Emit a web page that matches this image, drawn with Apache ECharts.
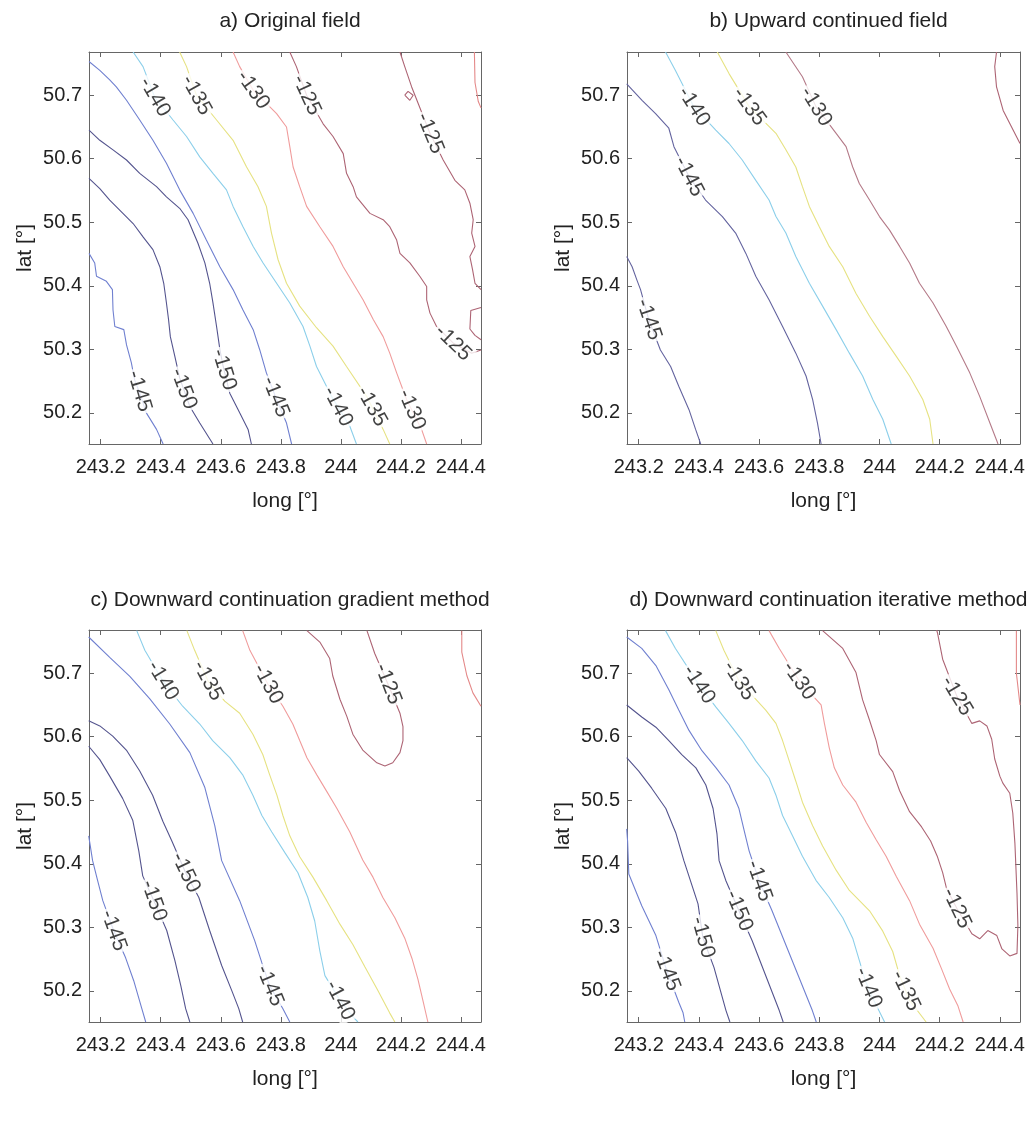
<!DOCTYPE html>
<html>
<head>
<meta charset="utf-8">
<title>Field continuation contours</title>
<script src="https://cdn.jsdelivr.net/npm/echarts@6/dist/echarts.min.js"></script>
<style>
  html, body { margin: 0; padding: 0; background: #fff; }
  #main { width: 1032px; height: 1133px; }
</style>
</head>
<body>
<div id="main"></div>
<script>
// ---- axes ----
const LON_RANGE = [243.161, 244.467];
const LAT_RANGE = [50.151, 50.768];
const LON_TICKS = [243.2, 243.4, 243.6, 243.8, 244, 244.2, 244.4];
const LAT_TICKS = [50.2, 50.3, 50.4, 50.5, 50.6, 50.7];
const X_NAME = 'long [°]';
const Y_NAME = 'lat [°]';
const TITLES = [
  'a) Original field',
  'b) Upward continued field',
  'c) Downward continuation gradient method',
  'd) Downward continuation iterative method'
];

// ---- a) original field: contour polylines [long, lat] ----
const A_M145_W = [[243.161,50.451],[243.180,50.436],[243.186,50.415],[243.219,50.407],[243.239,50.394],[243.241,50.362],[243.247,50.336],[243.277,50.331],[243.286,50.307],[243.302,50.279],[243.313,50.252],[243.330,50.231],[243.352,50.200],[243.386,50.174],[243.408,50.151]];
const A_M150_W = [[243.161,50.569],[243.197,50.553],[243.230,50.535],[243.274,50.514],[243.308,50.498],[243.341,50.477],[243.374,50.457],[243.397,50.430],[243.410,50.404],[243.419,50.373],[243.426,50.347],[243.432,50.320],[243.447,50.289],[243.463,50.255],[243.497,50.210],[243.530,50.184],[243.574,50.151]];
const A_M150_E = [[243.161,50.645],[243.197,50.629],[243.241,50.614],[243.286,50.598],[243.330,50.577],[243.386,50.556],[243.419,50.540],[243.463,50.522],[243.491,50.504],[243.524,50.467],[243.547,50.436],[243.563,50.404],[243.574,50.373],[243.586,50.336],[243.597,50.300],[243.608,50.273],[243.630,50.231],[243.663,50.200],[243.691,50.174],[243.702,50.151]];
const A_M145_E = [[243.161,50.753],[243.197,50.739],[243.230,50.724],[243.252,50.713],[243.286,50.692],[243.330,50.661],[243.374,50.629],[243.419,50.593],[243.463,50.551],[243.508,50.514],[243.552,50.472],[243.597,50.430],[243.641,50.394],[243.674,50.362],[243.708,50.331],[243.730,50.299],[243.752,50.263],[243.769,50.242],[243.786,50.221],[243.819,50.184],[243.836,50.151]];
const A_M140 = [[243.308,50.768],[243.341,50.745],[243.380,50.697],[243.441,50.661],[243.486,50.635],[243.530,50.603],[243.574,50.577],[243.619,50.551],[243.641,50.525],[243.674,50.493],[243.708,50.462],[243.741,50.436],[243.786,50.404],[243.830,50.373],[243.874,50.336],[243.897,50.305],[243.919,50.273],[243.969,50.226],[244.030,50.179],[244.052,50.151]];
const A_M135 = [[243.463,50.768],[243.486,50.745],[243.519,50.700],[243.586,50.661],[243.641,50.629],[243.686,50.587],[243.724,50.556],[243.752,50.525],[243.769,50.483],[243.791,50.441],[243.819,50.404],[243.863,50.368],[243.919,50.334],[243.974,50.305],[244.019,50.273],[244.086,50.226],[244.141,50.174],[244.163,50.151]];
const A_M130 = [[243.641,50.768],[243.663,50.745],[243.708,50.708],[243.786,50.671],[243.819,50.650],[243.830,50.619],[243.841,50.587],[243.863,50.556],[243.886,50.525],[243.930,50.493],[243.974,50.462],[244.008,50.430],[244.041,50.404],[244.074,50.378],[244.108,50.347],[244.141,50.320],[244.163,50.294],[244.186,50.263],[244.219,50.221],[244.269,50.174],[244.286,50.151]];
const A_M125_W = [[243.830,50.768],[243.852,50.745],[243.886,50.700],[243.941,50.655],[243.974,50.635],[244.008,50.608],[244.019,50.577],[244.041,50.556],[244.052,50.540],[244.097,50.514],[244.141,50.504],[244.163,50.493],[244.186,50.472],[244.197,50.451],[244.230,50.436],[244.263,50.415],[244.286,50.399],[244.286,50.378],[244.297,50.357],[244.319,50.336],[244.374,50.310],[244.436,50.294],[244.467,50.299]];
const A_M125_E = [[244.197,50.768],[244.213,50.745],[244.236,50.713],[244.297,50.640],[244.341,50.598],[244.380,50.566],[244.413,50.551],[244.430,50.530],[244.441,50.504],[244.436,50.483],[244.447,50.462],[244.430,50.446],[244.439,50.425],[244.447,50.404],[244.467,50.394]];
const A_M125_EDGE = [[244.467,50.366],[244.433,50.361],[244.430,50.332],[244.447,50.322],[244.467,50.315]];
const A_M125_LOOP = [[244.213,50.700],[244.224,50.706],[244.241,50.700],[244.230,50.692],[244.213,50.700]];
const A_M120 = [[244.445,50.768],[244.447,50.720],[244.458,50.690],[244.467,50.680]];
// contour labels [long, lat, level]
const LABELS_A = [[243.380,50.697,-140],[243.519,50.700,-135],[243.708,50.708,-130],[243.886,50.700,-125],[244.297,50.640,-125],[244.374,50.310,-125],[243.329,50.234,-145],[243.476,50.238,-150],[243.611,50.268,-150],[243.783,50.225,-145],[243.990,50.210,-140],[244.103,50.210,-135],[244.236,50.205,-130]];

// ---- b) upward continued field ----
const B_M145_W = [[243.160,50.446],[243.178,50.430],[243.194,50.409],[243.206,50.394],[243.233,50.347],[243.272,50.299],[243.306,50.273],[243.333,50.242],[243.367,50.205],[243.389,50.174],[243.406,50.151]];
const B_M145_E = [[243.160,50.718],[243.211,50.692],[243.256,50.671],[243.300,50.648],[243.317,50.619],[243.367,50.572],[243.422,50.535],[243.478,50.509],[243.522,50.483],[243.556,50.451],[243.589,50.415],[243.633,50.378],[243.678,50.336],[243.722,50.294],[243.756,50.258],[243.778,50.221],[243.794,50.184],[243.806,50.151]];
const B_M140 = [[243.289,50.768],[243.322,50.739],[243.383,50.682],[243.456,50.645],[243.500,50.624],[243.544,50.598],[243.589,50.566],[243.633,50.535],[243.656,50.509],[243.689,50.483],[243.722,50.446],[243.767,50.404],[243.811,50.368],[243.856,50.331],[243.900,50.294],[243.944,50.258],[243.978,50.221],[244.011,50.190],[244.039,50.151]];
const B_M135 = [[243.461,50.768],[243.500,50.734],[243.567,50.682],[243.656,50.640],[243.689,50.614],[243.722,50.587],[243.744,50.556],[243.767,50.525],[243.800,50.493],[243.833,50.462],[243.878,50.430],[243.922,50.388],[243.967,50.352],[244.011,50.320],[244.056,50.289],[244.100,50.258],[244.144,50.221],[244.167,50.190],[244.178,50.151]];
const B_M130 = [[243.689,50.768],[243.744,50.729],[243.789,50.682],[243.856,50.640],[243.889,50.619],[243.911,50.587],[243.933,50.561],[243.967,50.535],[244.000,50.509],[244.033,50.488],[244.067,50.462],[244.100,50.436],[244.133,50.404],[244.178,50.373],[244.222,50.336],[244.256,50.305],[244.300,50.263],[244.333,50.226],[244.367,50.184],[244.394,50.151]];
const B_M125 = [[244.389,50.768],[244.383,50.745],[244.389,50.713],[244.411,50.676],[244.439,50.650],[244.467,50.624]];
const LABELS_B = [[243.233,50.347,-145],[243.367,50.572,-145],[243.383,50.682,-140],[243.567,50.682,-135],[243.789,50.682,-130]];

// ---- c) downward continuation, gradient method ----
const C_M145_W = [[243.160,50.444],[243.173,50.405],[243.190,50.373],[243.207,50.342],[243.243,50.295],[243.283,50.252],[243.310,50.216],[243.337,50.172],[243.350,50.151]];
const C_M150_W = [[243.160,50.585],[243.197,50.564],[243.230,50.538],[243.273,50.503],[243.307,50.468],[243.327,50.420],[243.340,50.381],[243.377,50.342],[243.420,50.295],[243.447,50.248],[243.467,50.208],[243.483,50.172],[243.497,50.151]];
const C_M150_E = [[243.160,50.625],[243.197,50.617],[243.240,50.601],[243.287,50.578],[243.330,50.546],[243.373,50.508],[243.407,50.467],[243.437,50.436],[243.483,50.386],[243.527,50.347],[243.563,50.295],[243.603,50.240],[243.637,50.200],[243.660,50.172],[243.673,50.151]];
const C_M145_E = [[243.160,50.757],[243.230,50.725],[243.297,50.695],[243.363,50.660],[243.430,50.620],[243.497,50.575],[243.547,50.520],[243.580,50.460],[243.603,50.405],[243.663,50.342],[243.713,50.279],[243.737,50.244],[243.763,50.208],[243.807,50.172],[243.830,50.151]];
const C_M140 = [[243.320,50.767],[243.347,50.736],[243.407,50.688],[243.473,50.648],[243.530,50.620],[243.573,50.594],[243.630,50.567],[243.673,50.540],[243.707,50.508],[243.737,50.476],[243.770,50.450],[243.813,50.418],[243.857,50.386],[243.890,50.347],[243.913,50.310],[243.930,50.263],[243.947,50.224],[243.997,50.185],[244.047,50.156],[244.057,50.151]];
const C_M135 = [[243.487,50.767],[243.513,50.736],[243.557,50.688],[243.613,50.656],[243.663,50.637],[243.707,50.604],[243.740,50.572],[243.763,50.540],[243.787,50.508],[243.807,50.476],[243.830,50.444],[243.863,50.411],[243.907,50.379],[243.953,50.342],[243.997,50.305],[244.040,50.273],[244.080,50.238],[244.123,50.201],[244.163,50.165],[244.180,50.151]];
const C_M130 = [[243.673,50.767],[243.697,50.736],[243.757,50.683],[243.807,50.648],[243.840,50.620],[243.863,50.594],[243.887,50.567],[243.920,50.540],[243.953,50.514],[243.987,50.487],[244.030,50.450],[244.073,50.406],[244.107,50.379],[244.140,50.347],[244.180,50.315],[244.213,50.283],[244.237,50.251],[244.257,50.218],[244.273,50.186],[244.290,50.151]];
const C_M125 = [[243.887,50.767],[243.930,50.749],[243.963,50.723],[243.973,50.696],[243.997,50.659],[244.020,50.632],[244.040,50.604],[244.073,50.579],[244.120,50.559],[244.147,50.554],[244.173,50.559],[244.197,50.575],[244.207,50.594],[244.207,50.616],[244.197,50.637],[244.157,50.683],[244.113,50.731],[244.087,50.767]];
const C_M120 = [[244.403,50.767],[244.403,50.733],[244.420,50.696],[244.440,50.669],[244.467,50.648]];
const LABELS_C = [[243.407,50.688,-140],[243.557,50.688,-135],[243.757,50.683,-130],[244.157,50.683,-125],[243.243,50.295,-145],[243.377,50.342,-150],[243.483,50.386,-150],[243.763,50.208,-145],[243.997,50.185,-140]];

// ---- d) downward continuation, iterative method ----
const D_M145_W = [[243.160,50.455],[243.163,50.436],[243.167,50.384],[243.210,50.334],[243.257,50.287],[243.293,50.232],[243.333,50.182],[243.347,50.166],[243.353,50.151]];
const D_M150_W = [[243.160,50.567],[243.200,50.546],[243.243,50.519],[243.290,50.487],[243.323,50.449],[243.350,50.405],[243.397,50.337],[243.413,50.284],[243.450,50.237],[243.490,50.169],[243.503,50.151]];
const D_M150_E = [[243.160,50.650],[243.210,50.631],[243.257,50.615],[243.300,50.594],[243.343,50.572],[243.390,50.551],[243.423,50.524],[243.447,50.487],[243.460,50.447],[243.467,50.405],[243.490,50.373],[243.533,50.326],[243.577,50.279],[243.667,50.169],[243.680,50.151]];
const D_M145_E = [[243.160,50.757],[243.210,50.739],[243.257,50.712],[243.300,50.674],[243.333,50.642],[243.367,50.610],[243.410,50.578],[243.457,50.551],[243.500,50.524],[243.533,50.487],[243.553,50.447],[243.567,50.420],[243.600,50.373],[243.643,50.326],[243.777,50.169],[243.790,50.151]];
const D_M140 = [[243.289,50.767],[243.322,50.739],[243.400,50.682],[243.456,50.647],[243.500,50.621],[243.544,50.594],[243.589,50.562],[243.633,50.535],[243.656,50.508],[243.678,50.476],[243.711,50.444],[243.744,50.412],[243.789,50.374],[243.833,50.347],[243.878,50.315],[243.911,50.283],[243.933,50.248],[243.953,50.216],[243.977,50.189],[244.017,50.151]];
const D_M135 = [[243.456,50.767],[243.483,50.736],[243.533,50.688],[243.622,50.642],[243.656,50.621],[243.678,50.594],[243.700,50.562],[243.722,50.530],[243.744,50.497],[243.778,50.460],[243.811,50.428],[243.856,50.390],[243.900,50.358],[243.967,50.326],[244.011,50.294],[244.044,50.262],[244.067,50.224],[244.100,50.185],[244.155,50.151]];
const D_M130 = [[243.633,50.767],[243.667,50.739],[243.733,50.688],[243.806,50.650],[243.817,50.621],[243.833,50.583],[243.850,50.551],[243.878,50.524],[243.922,50.497],[243.956,50.465],[243.989,50.438],[244.022,50.412],[244.056,50.380],[244.100,50.342],[244.133,50.305],[244.178,50.267],[244.206,50.235],[244.233,50.203],[244.261,50.176],[244.278,50.151]];
const D_M125 = [[243.811,50.767],[243.878,50.739],[243.922,50.701],[243.944,50.658],[243.967,50.626],[243.989,50.594],[244.000,50.572],[244.044,50.545],[244.067,50.515],[244.100,50.482],[244.140,50.458],[244.170,50.436],[244.192,50.412],[244.210,50.386],[244.223,50.361],[244.257,50.330],[244.307,50.290],[244.333,50.282],[244.360,50.295],[244.390,50.287],[244.407,50.266],[244.433,50.255],[244.457,50.259],[244.460,50.303],[244.457,50.354],[244.450,50.433],[244.443,50.480],[244.433,50.511],[244.410,50.527],[244.400,50.538],[244.383,50.565],[244.373,50.596],[244.357,50.617],[244.333,50.625],[244.307,50.621],[244.257,50.664],[244.210,50.722],[244.193,50.763],[244.190,50.768]];
const D_M120 = [[244.455,50.767],[244.455,50.700],[244.467,50.650]];
const LABELS_D = [[243.400,50.682,-140],[243.533,50.688,-135],[243.733,50.688,-130],[244.257,50.664,-125],[244.257,50.330,-125],[243.293,50.232,-145],[243.413,50.284,-150],[243.533,50.326,-150],[243.600,50.373,-145],[243.963,50.205,-140],[244.087,50.200,-135]];

// ---- styling ----
const FONT = "'Liberation Sans', Arial, Helvetica, sans-serif";
const TEXT_COLOR = '#222';
const FRAME_COLOR = '#666';
const COLORS_MAIN = { '-150': '#54548e', '-145': '#7080d0', '-140': '#8ccfea', '-135': '#e6e282', '-130': '#f09c9c', '-125': '#ad6474', '-120': '#e48888' };
const COLORS_UP = { '-145': '#64649f', '-140': '#8ccfea', '-135': '#e6e282', '-130': '#b47a88', '-125': '#ad6474' };

const PANELS = [
  { title: TITLES[0], grid: { left: 89, top: 52, width: 392, height: 392 }, titleTop: 6, colors: COLORS_MAIN, labels: LABELS_A,
    lines: [[-145, A_M145_W], [-150, A_M150_W], [-150, A_M150_E], [-145, A_M145_E], [-140, A_M140], [-135, A_M135], [-130, A_M130], [-125, A_M125_W], [-125, A_M125_E], [-125, A_M125_EDGE], [-125, A_M125_LOOP], [-120, A_M120]] },
  { title: TITLES[1], grid: { left: 627, top: 52, width: 393, height: 392 }, titleTop: 6, colors: COLORS_UP, labels: LABELS_B,
    lines: [[-145, B_M145_W], [-145, B_M145_E], [-140, B_M140], [-135, B_M135], [-130, B_M130], [-125, B_M125]] },
  { title: TITLES[2], grid: { left: 89, top: 630, width: 392, height: 392 }, titleTop: 585, colors: COLORS_MAIN, labels: LABELS_C,
    lines: [[-145, C_M145_W], [-150, C_M150_W], [-150, C_M150_E], [-145, C_M145_E], [-140, C_M140], [-135, C_M135], [-130, C_M130], [-125, C_M125], [-120, C_M120]] },
  { title: TITLES[3], grid: { left: 627, top: 630, width: 393, height: 392 }, titleTop: 585, colors: COLORS_MAIN, labels: LABELS_D,
    lines: [[-145, D_M145_W], [-150, D_M150_W], [-150, D_M150_E], [-145, D_M145_E], [-140, D_M140], [-135, D_M135], [-130, D_M130], [-125, D_M125], [-120, D_M120]] }
];

const tickStyle = { show: true, inside: true, length: 5, lineStyle: { color: FRAME_COLOR, width: 1 } };
const frameLine = { show: true, onZero: false, lineStyle: { color: FRAME_COLOR, width: 1 } };
const tickText = { fontFamily: FONT, fontSize: 20, color: TEXT_COLOR, showMinLabel: true, showMaxLabel: true, hideOverlap: false };

const grids = [], xAxes = [], yAxes = [], titles = [], series = [];
const labelSeriesIndex = [], firstLineSeries = [];

PANELS.forEach((p, i) => {
  grids.push(Object.assign({ containLabel: false }, p.grid));
  titles.push({
    text: p.title, left: p.grid.left + p.grid.width / 2, top: p.titleTop, textAlign: 'center',
    textStyle: { fontFamily: FONT, fontSize: 21, fontWeight: 'normal', color: TEXT_COLOR }
  });
  // bottom / top longitude axes
  xAxes.push({
    gridIndex: i, type: 'value', position: 'bottom', min: LON_RANGE[0], max: LON_RANGE[1],
    name: X_NAME, nameLocation: 'middle', nameGap: 47,
    nameTextStyle: { fontFamily: FONT, fontSize: 21, color: TEXT_COLOR },
    axisLine: frameLine,
    axisTick: Object.assign({ customValues: LON_TICKS }, tickStyle),
    axisLabel: Object.assign({ customValues: LON_TICKS, margin: 13 }, tickText),
    splitLine: { show: false }
  });
  xAxes.push({
    gridIndex: i, type: 'value', position: 'top', min: LON_RANGE[0], max: LON_RANGE[1],
    axisLine: frameLine,
    axisTick: Object.assign({ customValues: LON_TICKS }, tickStyle),
    axisLabel: { show: false }, splitLine: { show: false }
  });
  // left / right latitude axes
  yAxes.push({
    gridIndex: i, type: 'value', position: 'left', min: LAT_RANGE[0], max: LAT_RANGE[1],
    name: Y_NAME, nameLocation: 'middle', nameGap: 53,
    nameTextStyle: { fontFamily: FONT, fontSize: 21, color: TEXT_COLOR },
    axisLine: frameLine,
    axisTick: Object.assign({ customValues: LAT_TICKS }, tickStyle),
    axisLabel: Object.assign({ customValues: LAT_TICKS, margin: 7 }, tickText),
    splitLine: { show: false }
  });
  yAxes.push({
    gridIndex: i, type: 'value', position: 'right', min: LAT_RANGE[0], max: LAT_RANGE[1],
    axisLine: frameLine,
    axisTick: Object.assign({ customValues: LAT_TICKS }, tickStyle),
    axisLabel: { show: false }, splitLine: { show: false }
  });

  // contour lines
  firstLineSeries.push(series.length);
  p.lines.forEach(([level, pts]) => {
    series.push({
      type: 'line', xAxisIndex: 2 * i, yAxisIndex: 2 * i, data: pts,
      symbol: 'none', silent: true, animation: false, clip: true, z: 2,
      lineStyle: { color: p.colors[String(level)], width: 1.1 }
    });
  });
  // contour labels (white box breaks the line beneath)
  labelSeriesIndex.push(series.length);
  series.push({
    type: 'scatter', xAxisIndex: 2 * i, yAxisIndex: 2 * i, symbolSize: 0, silent: true, animation: false, z: 5,
    data: p.labels.map(([lon, lat, level]) => ({ value: [lon, lat, level] })),
    label: {
      show: true, position: 'inside', formatter: (d) => String(d.value[2]),
      fontFamily: FONT, fontSize: 21, color: '#111', backgroundColor: '#fff', padding: [0, 2]
    }
  });
});

const chart = echarts.init(document.getElementById('main'), null, { renderer: 'canvas' });
chart.setOption({
  backgroundColor: '#fff',
  animation: false,
  title: titles,
  grid: grids,
  xAxis: xAxes,
  yAxis: yAxes,
  series: series
});

// orient every label along the contour it sits on, measured in screen space
function segDist(p, a, b) {
  const dx = b[0] - a[0], dy = b[1] - a[1];
  const len2 = dx * dx + dy * dy || 1;
  let t = ((p[0] - a[0]) * dx + (p[1] - a[1]) * dy) / len2;
  t = Math.max(0, Math.min(1, t));
  const qx = a[0] + t * dx - p[0], qy = a[1] + t * dy - p[1];
  return Math.sqrt(qx * qx + qy * qy);
}
const labelUpdates = [];
PANELS.forEach((p, i) => {
  const finder = { seriesIndex: firstLineSeries[i] };
  const data = p.labels.map(([lon, lat, level]) => {
    const pt = chart.convertToPixel(finder, [lon, lat]);
    let best = null, bestD = Infinity;
    p.lines.filter(([lv]) => lv === level).forEach(([, pts]) => {
      const px = pts.map((q) => chart.convertToPixel(finder, q));
      for (let k = 0; k < px.length - 1; k++) {
        const d = segDist(pt, px[k], px[k + 1]);
        if (d < bestD) { bestD = d; best = [px[Math.max(0, k - 1)], px[Math.min(px.length - 1, k + 2)]]; }
      }
    });
    let rot = 0;
    if (best) {
      rot = -Math.atan2(best[1][1] - best[0][1], best[1][0] - best[0][0]) * 180 / Math.PI;
      while (rot > 90) rot -= 180;
      while (rot < -90) rot += 180;
    }
    return { value: [lon, lat, level], label: { rotate: rot } };
  });
  labelUpdates[labelSeriesIndex[i]] = { data };
});
chart.setOption({ series: series.map((s, idx) => labelUpdates[idx] || {}) });
</script>
</body>
</html>
